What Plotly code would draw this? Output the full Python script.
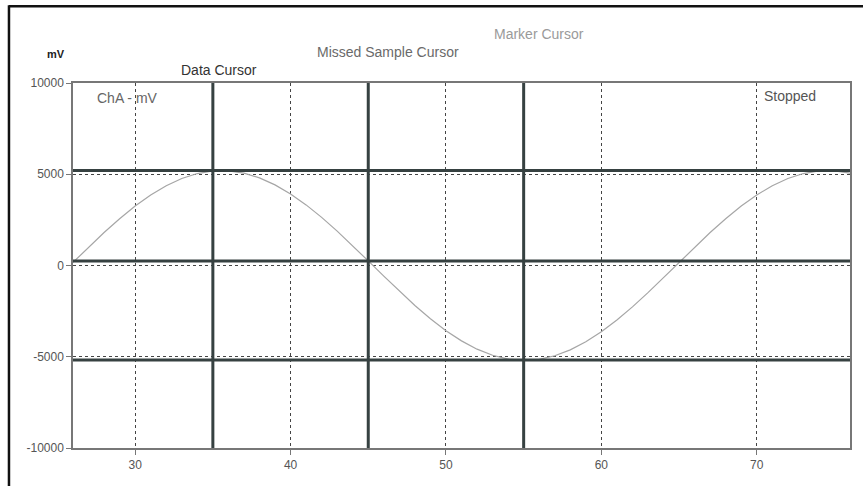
import plotly.graph_objects as go

# Sample times (x axis) and channel A readings in mV
time_x = list(range(26, 77))
cha_mv = [168, 999, 1805, 2564, 3256, 3864, 4373, 4767, 5039, 5180,
          5186, 5059, 4800, 4417, 3919, 3321, 2636, 1883, 1081, 251,
          -585, -1406, -2191, -2920, -3572, -4130, -4585, -4919, -5126, -5200,
          -5139, -4946, -4623, -4182, -3631, -2988, -2267, -1487, -668, 168,
          999, 1805, 2564, 3256, 3864, 4373, 4767, 5039, 5180, 5186, 5059]

# Cursor positions
cursor_x = [35, 45, 55]
cursor_y = [5200, 250, -5180]

# Tick values / labels
x_ticks = [30, 40, 50, 60, 70]
y_ticks = [-10000, -5000, 0, 5000, 10000]
y_tick_labels = ["-10000", "-5000", "0", "5000", "10000"]

FONT = "Liberation Sans, Arial, sans-serif"
CURSOR_COLOR = "#364141"

fig = go.Figure()
fig.add_trace(go.Scatter(x=time_x, y=cha_mv, mode="lines",
                         line=dict(color="#a6a6a6", width=1.2),
                         hoverinfo="skip", showlegend=False))

for cx in cursor_x:
    fig.add_shape(type="line", xref="x", yref="paper", x0=cx, x1=cx, y0=0, y1=1,
                  line=dict(color=CURSOR_COLOR, width=3), layer="above")
for cy in cursor_y:
    fig.add_shape(type="line", xref="paper", yref="y", x0=0, x1=1, y0=cy, y1=cy,
                  line=dict(color=CURSOR_COLOR, width=3), layer="above")

# window frame (top and left edges)
fig.add_shape(type="line", xref="paper", yref="paper", x0=-0.0824, x1=1.06, y0=1.21, y1=1.21,
              line=dict(color="#111111", width=2.5), layer="above")
fig.add_shape(type="line", xref="paper", yref="paper", x0=-0.0824, x1=-0.0824, y0=-0.12, y1=1.213,
              line=dict(color="#111111", width=2.5), layer="above")

annos = [
    dict(text="<b>mV</b>", xref="paper", yref="paper", x=-0.0214, y=1.079,
         font=dict(size=11, color="#222222")),
    dict(text="Data Cursor", xref="x", yref="paper", x=35.42, y=1.035,
         font=dict(size=14, color="#333333")),
    dict(text="Missed Sample Cursor", xref="x", yref="paper", x=46.24, y=1.084,
         font=dict(size=14, color="#6a6a6a")),
    dict(text="Marker Cursor", xref="x", yref="paper", x=56.0, y=1.133,
         font=dict(size=14, color="#9a9a9a")),
    dict(text="ChA - mV", xref="x", yref="y", x=27.43, y=9162, xanchor="left",
         font=dict(size=14, color="#666666")),
    dict(text="Stopped", xref="x", yref="y", x=70.31, y=9271, xanchor="left",
         font=dict(size=14, color="#555555")),
]
for a in annos:
    a.setdefault("xanchor", "center")
    fig.add_annotation(showarrow=False, yanchor="middle", font_family=FONT, **a)

fig.update_layout(
    width=863, height=486,
    margin=dict(l=73, r=11, t=83, b=38),
    paper_bgcolor="white", plot_bgcolor="white",
    font=dict(family=FONT, size=12, color="#555555"),
    showlegend=False,
)
fig.update_xaxes(range=[26, 76], tickvals=x_ticks, ticks="outside", ticklen=5,
                 tickcolor="#777777", showline=True, linecolor="#777777", linewidth=1.5,
                 mirror=True, showgrid=True, gridcolor="#444444", griddash="dot",
                 gridwidth=1, zeroline=False, tickfont=dict(size=12, color="#555555"))
fig.update_yaxes(range=[-10000, 10000], tickvals=y_ticks, ticktext=y_tick_labels,
                 ticks="outside", ticklen=5, tickcolor="#777777", showline=True,
                 linecolor="#777777", linewidth=1.5, mirror=True, showgrid=True,
                 gridcolor="#444444", griddash="dot", gridwidth=1, zeroline=False,
                 tickfont=dict(size=12, color="#555555"))

fig.write_html("out.html",
               config={"displayModeBar": False},
               post_script="document.body.style.margin='0';document.body.style.overflow='hidden';")
